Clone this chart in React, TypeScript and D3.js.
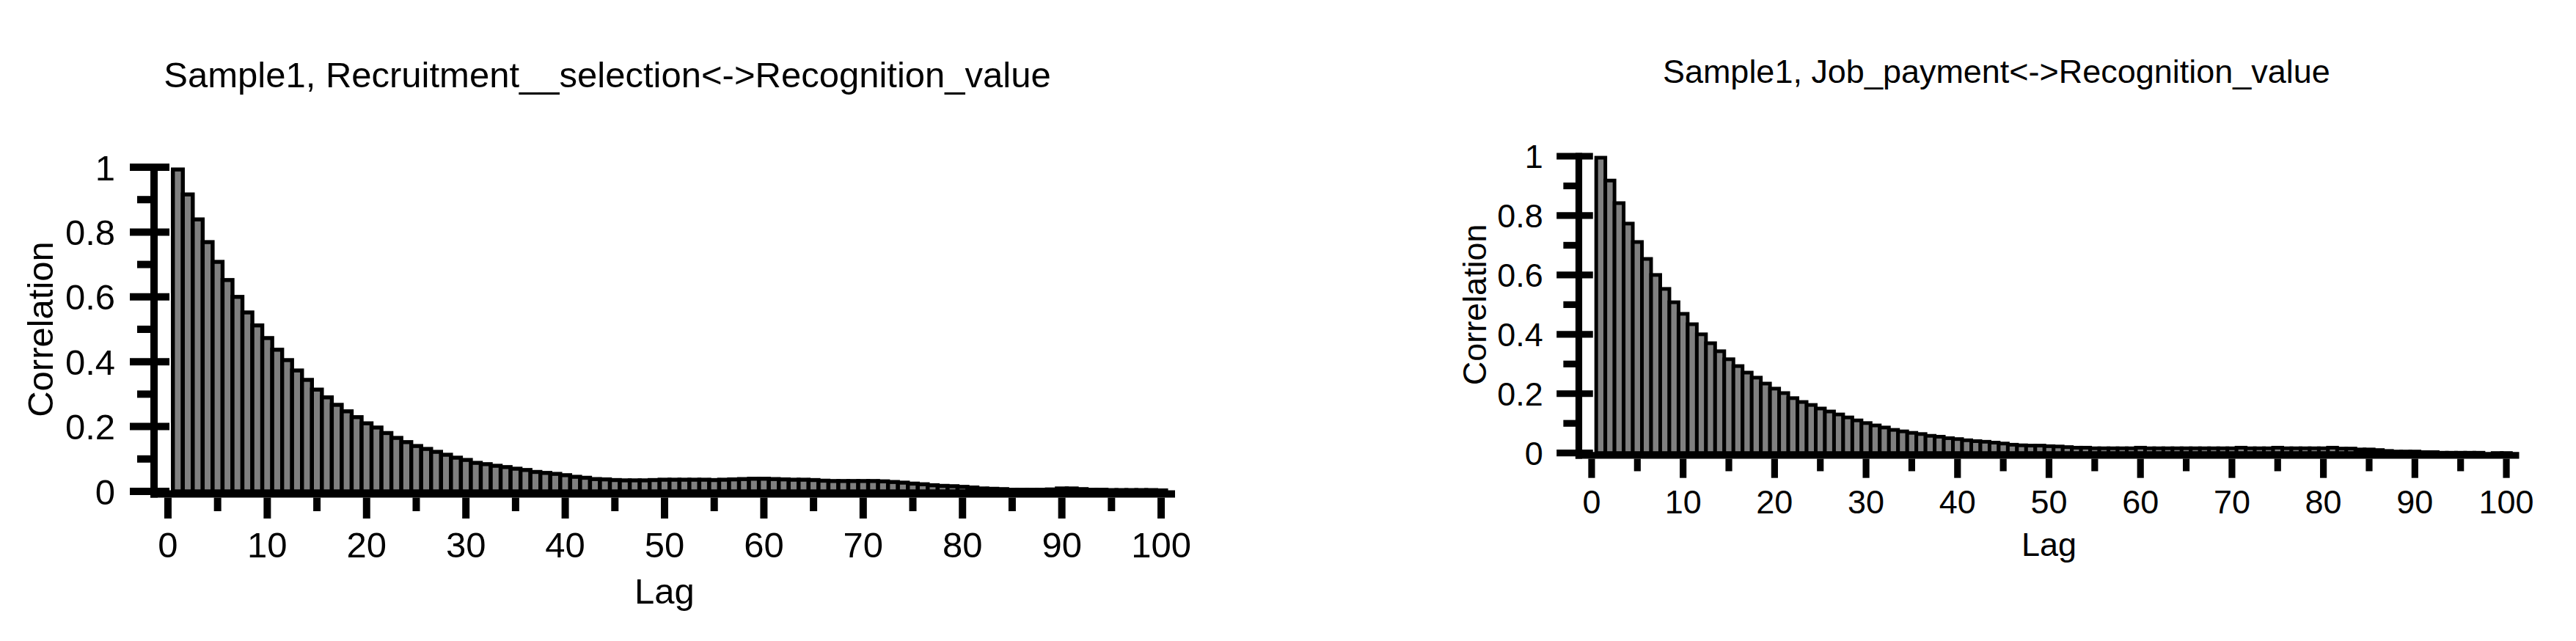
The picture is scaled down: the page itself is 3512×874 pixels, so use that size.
import * as d3 from "d3";
import React, { useEffect, useRef } from "react";

const svgWidth = 3512;
const svgHeight = 874;

// correlation for lags 1..100
const recruitCorr = [
  0.993, 0.916, 0.839, 0.769, 0.708, 0.652, 0.600, 0.552, 0.512, 0.473,
  0.437, 0.405, 0.373, 0.344, 0.314, 0.290, 0.267, 0.247, 0.229, 0.210,
  0.197, 0.180, 0.165, 0.152, 0.140, 0.131, 0.122, 0.113, 0.104, 0.097,
  0.088, 0.084, 0.079, 0.075, 0.070, 0.066, 0.060, 0.057, 0.054, 0.050,
  0.045, 0.042, 0.038, 0.037, 0.035, 0.034, 0.034, 0.034, 0.035, 0.036,
  0.036, 0.036, 0.036, 0.036, 0.035, 0.036, 0.037, 0.038, 0.039, 0.039,
  0.038, 0.037, 0.036, 0.036, 0.035, 0.033, 0.032, 0.032, 0.032, 0.032,
  0.032, 0.031, 0.029, 0.027, 0.024, 0.022, 0.019, 0.017, 0.016, 0.014,
  0.012, 0.009, 0.008, 0.007, 0.005, 0.005, 0.005, 0.005, 0.006, 0.009,
  0.009, 0.007, 0.005, 0.005, 0.004, 0.004, 0.004, 0.004, 0.004, 0.003,
];

const jobCorr = [
  0.995, 0.918, 0.842, 0.773, 0.711, 0.654, 0.600, 0.553, 0.508, 0.469,
  0.434, 0.400, 0.370, 0.343, 0.316, 0.293, 0.271, 0.254, 0.234, 0.217,
  0.202, 0.185, 0.172, 0.162, 0.150, 0.140, 0.130, 0.120, 0.110, 0.101,
  0.093, 0.086, 0.078, 0.073, 0.068, 0.064, 0.058, 0.055, 0.050, 0.047,
  0.043, 0.040, 0.038, 0.035, 0.032, 0.028, 0.026, 0.025, 0.025, 0.023,
  0.022, 0.020, 0.018, 0.018, 0.016, 0.016, 0.016, 0.016, 0.016, 0.018,
  0.016, 0.016, 0.016, 0.016, 0.016, 0.016, 0.016, 0.016, 0.016, 0.016,
  0.018, 0.016, 0.016, 0.016, 0.018, 0.016, 0.016, 0.016, 0.016, 0.016,
  0.018, 0.015, 0.015, 0.012, 0.012, 0.010, 0.007, 0.005, 0.005, 0.005,
  0.003, 0.003, 0.001, 0.001, 0.001, 0.001, 0.001, 0.000, -0.001, -0.002,
];

const titles = [
  "Sample1, Recruitment__selection<->Recognition_value",
  "Sample1, Job_payment<->Recognition_value",
];
const xMajor = [0, 10, 20, 30, 40, 50, 60, 70, 80, 90, 100];
const xMinor = [5, 15, 25, 35, 45, 55, 65, 75, 85, 95];
const yMajor = [0, 0.2, 0.4, 0.6, 0.8, 1];
const yMajorText = ["0", "0.2", "0.4", "0.6", "0.8", "1"];
const yMinor = [0.1, 0.3, 0.5, 0.7, 0.9];
const xLabel = "Lag";
const yLabel = "Correlation";

// where each panel sits (px) and how big it is relative to the left one
const panels = [
  { values: recruitCorr, title: titles[0], left: 210, right: 1602, top: 228, bottom: 670, s: 1, titleY: 119 },
  { values: jobCorr, title: titles[1], left: 2152.5, right: 3434.5, top: 213, bottom: 617.7, s: 0.918, titleY: 113 },
];

const font = "'Liberation Sans', Arial, Helvetica, sans-serif";

function drawPanel(svg, p) {
  const s = p.s;
  const lw = 10 * s;
  const fs = 49 * s;

  const x = d3.scaleLinear().domain([-1.4, 101.4]).range([p.left, p.right]);
  const y = d3.scaleLinear().domain([0, 1]).range([p.bottom, p.top]);
  const g = svg.append("g");

  // bars, centred on each lag
  g.selectAll("rect")
    .data(p.values)
    .enter()
    .append("rect")
    .attr("x", (d, i) => x(i + 0.5))
    .attr("width", x(1) - x(0))
    .attr("y", d => y(Math.max(d, 0)))
    .attr("height", d => Math.abs(y(d) - y(0)))
    .attr("fill", "#808080")
    .attr("stroke", "#000")
    .attr("stroke-width", 5.4 * s);

  const axisY = y(0) + 3.5 * s;

  // x axis line
  g.append("line")
    .attr("x1", p.left - lw / 2).attr("x2", p.right)
    .attr("y1", axisY).attr("y2", axisY)
    .attr("stroke", "#000").attr("stroke-width", lw);

  // y axis line
  g.append("line")
    .attr("x1", p.left).attr("x2", p.left)
    .attr("y1", y(1) - lw / 2).attr("y2", axisY + lw / 2)
    .attr("stroke", "#000").attr("stroke-width", lw);

  // y ticks: major ones cross the axis
  g.selectAll(".ymaj")
    .data(yMajor)
    .enter()
    .append("line")
    .attr("x1", p.left - 33 * s).attr("x2", p.left + 21 * s)
    .attr("y1", d => y(d)).attr("y2", d => y(d))
    .attr("stroke", "#000").attr("stroke-width", lw);

  g.selectAll(".ymin")
    .data(yMinor)
    .enter()
    .append("line")
    .attr("x1", p.left - 23 * s).attr("x2", p.left)
    .attr("y1", d => y(d)).attr("y2", d => y(d))
    .attr("stroke", "#000").attr("stroke-width", lw);

  const tickTop = axisY + lw / 2;
  g.selectAll(".xmaj")
    .data(xMajor)
    .enter()
    .append("line")
    .attr("x1", d => x(d)).attr("x2", d => x(d))
    .attr("y1", tickTop).attr("y2", y(0) + 37 * s)
    .attr("stroke", "#000").attr("stroke-width", lw);

  g.selectAll(".xmin")
    .data(xMinor)
    .enter()
    .append("line")
    .attr("x1", d => x(d)).attr("x2", d => x(d))
    .attr("y1", tickTop).attr("y2", y(0) + 27 * s)
    .attr("stroke", "#000").attr("stroke-width", lw);

  // tick labels
  g.selectAll(".ylab")
    .data(yMajor)
    .enter()
    .append("text")
    .attr("x", p.left - 53 * s)
    .attr("y", d => y(d) + 17.5 * s)
    .attr("text-anchor", "end")
    .attr("font-family", font)
    .attr("font-size", fs)
    .text((d, i) => yMajorText[i]);

  g.selectAll(".xlab")
    .data(xMajor)
    .enter()
    .append("text")
    .attr("x", d => x(d))
    .attr("y", y(0) + 90 * s)
    .attr("text-anchor", "middle")
    .attr("font-family", font)
    .attr("font-size", fs)
    .text(d => String(d));

  g.append("text")
    .attr("x", (p.left + p.right) / 2)
    .attr("y", y(0) + 153 * s)
    .attr("text-anchor", "middle")
    .attr("font-family", font)
    .attr("font-size", fs)
    .text(xLabel);

  g.append("text")
    .attr("transform", `translate(${p.left - 138 * s},${(y(0) + y(1)) / 2}) rotate(-90)`)
    .attr("text-anchor", "middle")
    .attr("font-family", font)
    .attr("font-size", fs)
    .text(yLabel);

  g.append("text")
    .attr("x", (p.left + p.right) / 2 - 78 * s)
    .attr("y", p.titleY)
    .attr("text-anchor", "middle")
    .attr("font-family", font)
    .attr("font-size", fs)
    .text(p.title);
}

const App = () => {
  const container = useRef(null);

  useEffect(() => {
    const svg = d3.select(container.current);
    svg.selectAll("*").remove();
    svg.append("rect").attr("width", svgWidth).attr("height", svgHeight).attr("fill", "#fff");
    panels.forEach(p => drawPanel(svg, p));
  }, []);

  return (
    <svg
      ref={container}
      width={svgWidth}
      height={svgHeight}
      style={{ position: "absolute", left: 0, top: 0, display: "block" }}
    />
  );
};

export default App;
